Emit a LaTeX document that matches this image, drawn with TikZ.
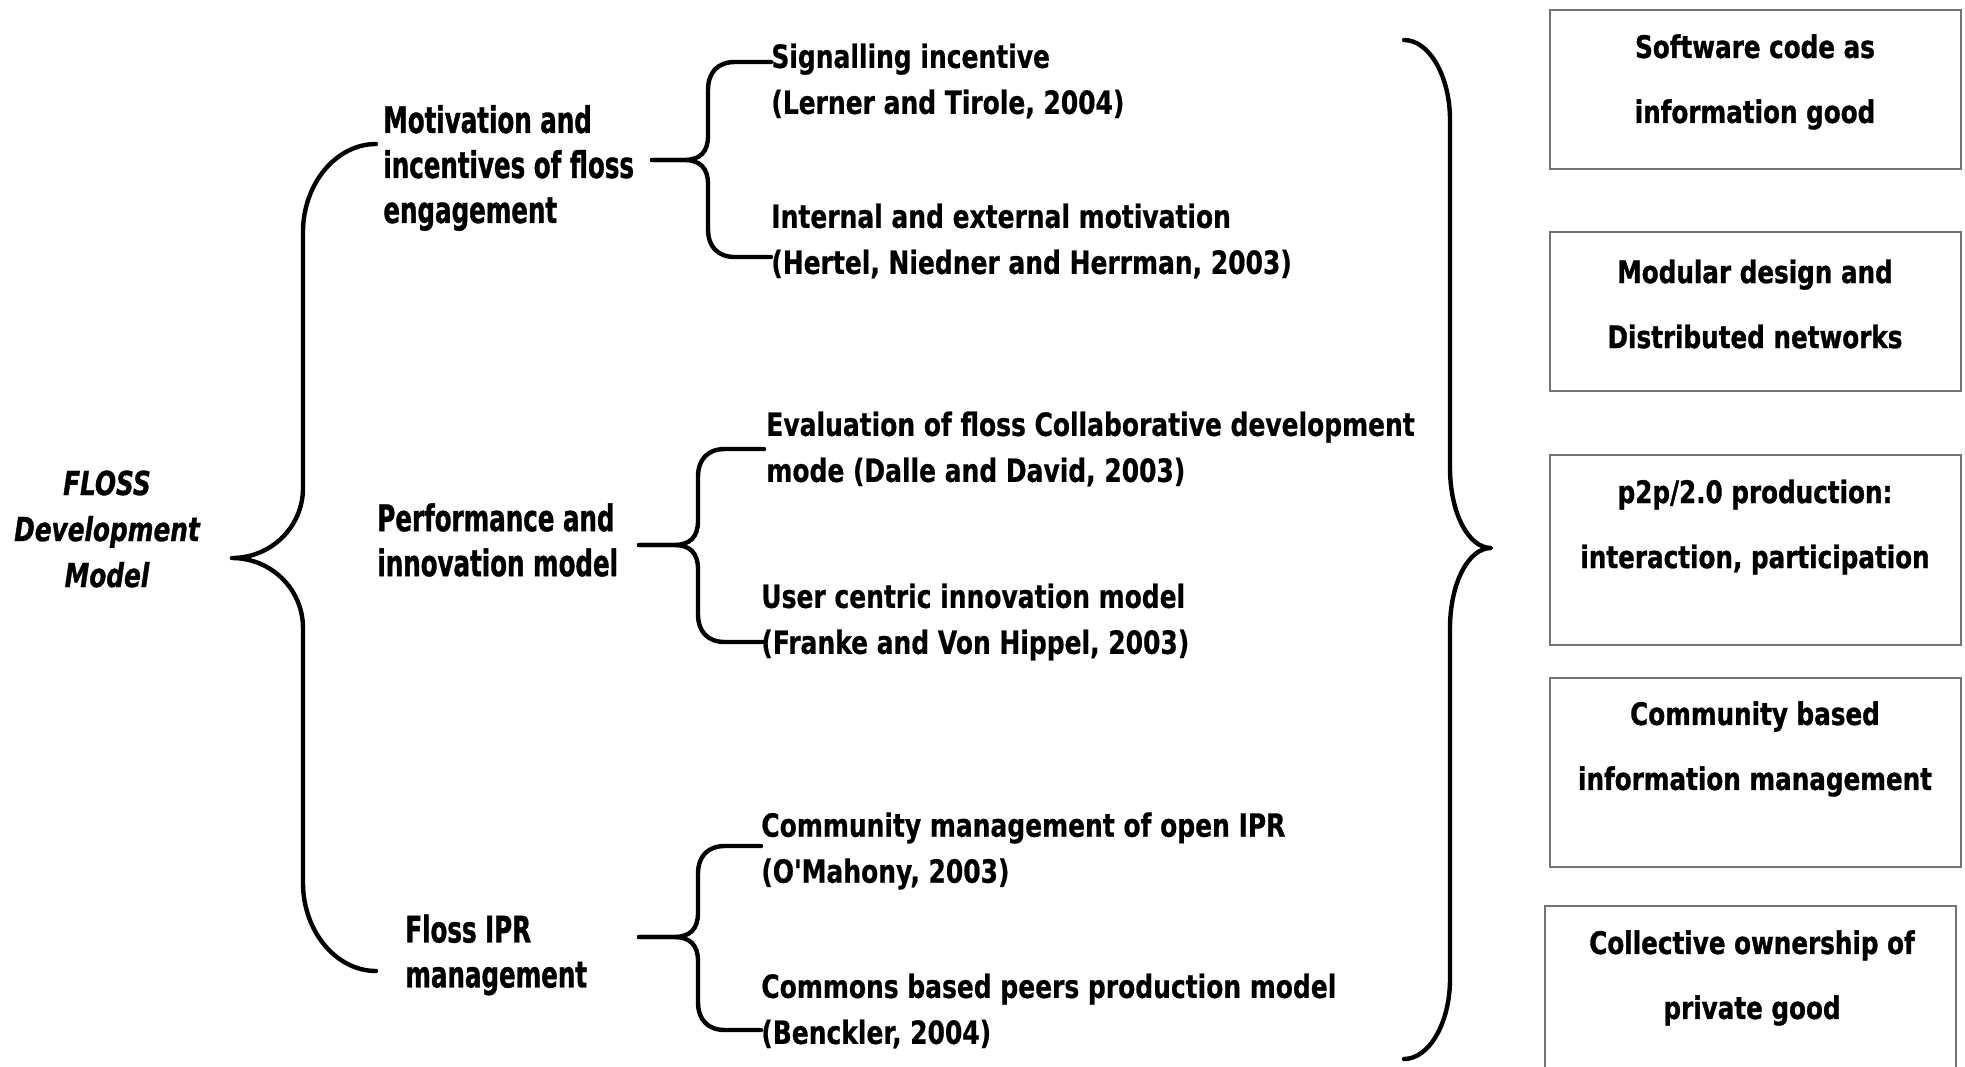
\documentclass[tikz,border=0pt]{standalone}
\usepackage{fontspec}
\setmainfont{DejaVu Sans}
\newfontfamily\condfont{DejaVu Sans}[FakeStretch=0.78, FakeBold=0.6]
\newfontfamily\leftfont{DejaVu Sans}[FakeStretch=0.67, FakeBold=1]
\newfontfamily\boxfont{DejaVu Sans}[FakeStretch=0.795, FakeBold=1]
\newfontfamily\rootfont{DejaVu Sans}[FakeStretch=0.75, FakeBold=1]
\tikzset{
  brace/.style={line width=2.2pt, line cap=round, line join=round},
  widetext/.style={font=\leftfont\fontsize{18.3}{22.5}\selectfont\bfseries, inner sep=0pt, align=left, anchor=west},
  condtext/.style={font=\condfont\fontsize{16}{23}\selectfont\bfseries, inner sep=0pt, align=left, anchor=west},
  boxtext/.style={font=\boxfont\fontsize{15.5}{32.5}\selectfont\bfseries, inner sep=0pt, align=center},
  roottext/.style={font=\rootfont\fontsize{16.5}{23}\selectfont\bfseries\itshape, inner sep=0pt, align=center},
  framebox/.style={draw=black!55, line width=1pt, minimum width=205.5pt, inner sep=0pt}
}
\newcommand\subbrace[6]{% end x, top y, spine x, tip x, mid y, bottom y
  \draw[brace] (#1,#2) -- (#3+27,#2) .. controls (#3+10,#2) and (#3,#2+10) .. (#3,#2+28)
     -- (#3,#5-24) .. controls (#3,#5-8) and (#3-8,#5) .. (#3-24,#5) -- (#4,#5);
  \draw[brace] (#4,#5) -- (#3-24,#5) .. controls (#3-8,#5) and (#3,#5+8) .. (#3,#5+24)
     -- (#3,#6-28) .. controls (#3,#6-10) and (#3+10,#6) .. (#3+27,#6) -- (#1,#6);
}
\begin{document}
\begin{tikzpicture}[x=0.5pt,y=-0.5pt]
\clip (0,0) rectangle (1965,1066);
\fill[white] (0,0) rectangle (1965,1066);

% root
\node[roottext] (root) at (107,529) {FLOSS\\Development\\Model};

% main left brace
\coordinate (lbTop) at (376,144);
\coordinate (lbTip) at (232,558);
\coordinate (lbBot) at (376,971);
\draw[brace] (lbTop) .. controls (336,144) and (303,184) .. (303,232) -- (303,488)
   .. controls (303,527) and (271,558) .. (lbTip)
   .. controls (271,558) and (303,589) .. (303,628) -- (303,883)
   .. controls (303,931) and (336,971) .. (lbBot);

% second level
\node[widetext] (mot) at (383,168) {Motivation and\\incentives of floss\\engagement};
\node[widetext] (perf) at (377,540) {Performance and\\innovation model};
\node[widetext] (ipr) at (405,955) {Floss IPR\\management};

% sub braces
\subbrace{771}{62}{708}{652}{160}{257}
\subbrace{764}{449}{698}{639}{545}{642}
\subbrace{761}{846}{698}{639}{937}{1030}

% third level
\node[condtext] (s1) at (771,81) {Signalling incentive\\(Lerner and Tirole, 2004)};
\node[condtext] (s2) at (771,241) {Internal and external motivation\\(Hertel, Niedner and Herrman, 2003)};
\node[condtext] (s3) at (766,449) {Evaluation of floss Collaborative development\\mode (Dalle and David, 2003)};
\node[condtext] (s4) at (761,622) {User centric innovation model\\(Franke and Von Hippel, 2003)};
\node[condtext] (s5) at (761,851) {Community management of open IPR\\(O'Mahony, 2003)};
\node[condtext] (s6) at (761,1011) {Commons based peers production model\\(Benckler, 2004)};

% right brace
\coordinate (rbTop) at (1404,40);
\coordinate (rbTip) at (1491,548);
\coordinate (rbBot) at (1404,1059);
\draw[brace] (rbTop) .. controls (1429,40) and (1450,76) .. (1450,120) -- (1450,468)
   .. controls (1450,512) and (1468,548) .. (rbTip)
   .. controls (1468,548) and (1450,584) .. (1450,628) -- (1450,979)
   .. controls (1450,1023) and (1429,1059) .. (rbBot);

% right boxes
\node[framebox, minimum height=79.5pt] (b1) at (1755.5,89.5) {};
\node[framebox, minimum height=79.5pt] (b2) at (1755.5,311.5) {};
\node[framebox, minimum height=95pt] (b3) at (1755.5,550) {};
\node[framebox, minimum height=94.5pt] (b4) at (1755.5,772.5) {};
\node[framebox, minimum height=100pt] (b5) at (1750.5,1006) {};

\node[boxtext] (t1) at (1755,82) {Software code as\\information good};
\node[boxtext] (t2) at (1755,304) {Modular design and\\Distributed networks};
\node[boxtext] (t3) at (1755,527) {p2p/2.0 production:\\interaction, participation};
\node[boxtext] (t4) at (1755,749) {Community based\\information management};
\node[boxtext] (t5) at (1752,978) {Collective ownership of\\private good};
\end{tikzpicture}
\end{document}
